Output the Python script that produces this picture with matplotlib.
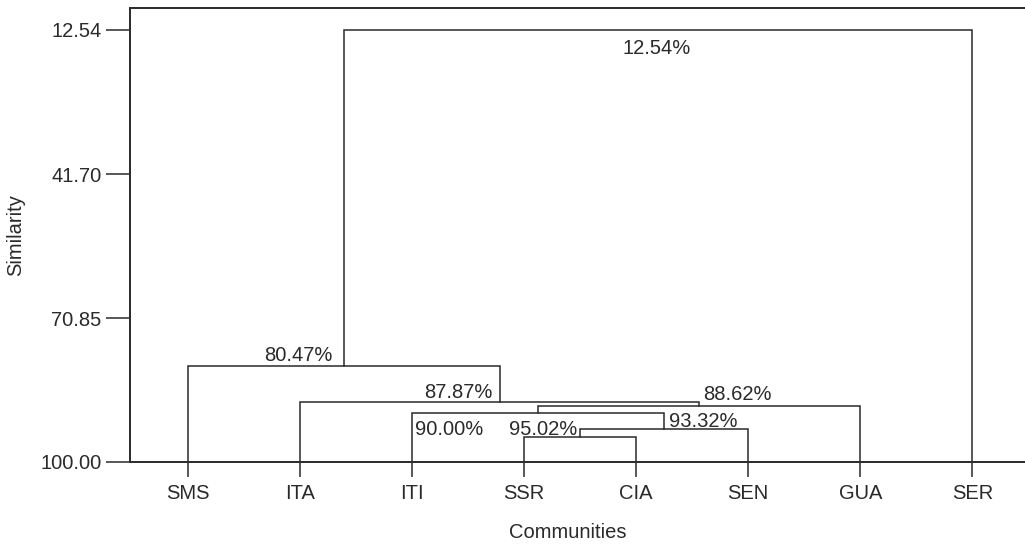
import numpy as np
import matplotlib
matplotlib.use("Agg")
import matplotlib.pyplot as plt

# leaves of the dendrogram, left to right
leaves = ['SMS', 'ITA', 'ITI', 'SSR', 'CIA', 'SEN', 'GUA', 'SER']

# merges, scipy style: ids 0..7 are leaves, 8.. are the merged clusters
merge_a = [3, 8, 2, 10, 1, 12, 13]
merge_b = [4, 5, 9, 6, 11, 0, 7]
merge_sim = [95.02, 93.32, 90.00, 88.62, 87.87, 80.47, 12.54]

y_ticks = [12.54, 41.70, 70.85, 100.00]

# where the percent labels sit (layout only)
lab_x = [3.47, 4.29, 2.03, 4.594, 2.72, 1.29, 4.18]
lab_y = [94.5, 92.9, 94.5, 87.44, 87.1, 79.6, 17.4]
lab_ha = ['right', 'left', 'left', 'left', 'right', 'right', 'center']

INK = '#2a2a2a'


def main():
    plt.rcParams['font.family'] = ['Liberation Sans', 'DejaVu Sans']
    fig = plt.figure(figsize=(10.25, 5.45), dpi=100)
    ax = fig.add_axes([130/1025, 83/545, 1 - 130/1025, 454/545])

    n = len(leaves)
    xpos = {i: float(i) for i in range(n)}
    ypos = {i: 100.0 for i in range(n)}
    for k in range(len(merge_sim)):
        a, b, h = merge_a[k], merge_b[k], merge_sim[k]
        xa, xb = xpos[a], xpos[b]
        ax.plot([xa, xa, xb, xb], [ypos[a], h, h, ypos[b]],
                color=INK, linewidth=1.1, solid_joinstyle='miter')
        node = n + k
        xpos[node] = (xa + xb) / 2
        ypos[node] = h
        ax.text(lab_x[k], lab_y[k], '%.2f%%' % h, ha=lab_ha[k], va='baseline',
                fontsize=14.5, color=INK)

    ax.set_xlim(-0.517, 7.47)
    ax.set_ylim(100, 8.09)
    ax.set_xticks(np.arange(n))
    ax.set_xticklabels(leaves)
    ax.set_yticks(y_ticks)
    ax.set_yticklabels(['%.2f' % v for v in y_ticks])
    ax.tick_params(axis='x', direction='out', length=11, width=1.1, pad=5,
                   labelsize=14.5, colors=INK)
    ax.tick_params(axis='y', direction='out', length=17.5, width=1.1, pad=3,
                   labelsize=14.5, colors=INK)
    ax.spines['right'].set_visible(False)
    for s in ['left', 'top', 'bottom']:
        ax.spines[s].set_linewidth(1.4)
        ax.spines[s].set_color(INK)
    ax.set_xlabel('Communities', fontsize=14.5, color=INK, labelpad=14)
    ax.xaxis.label.set_x(0.489)
    ax.set_ylabel('Similarity', fontsize=14.5, color=INK, labelpad=11)

    fig.savefig('out.png', dpi=100)


if __name__ == "__main__":
    main()
